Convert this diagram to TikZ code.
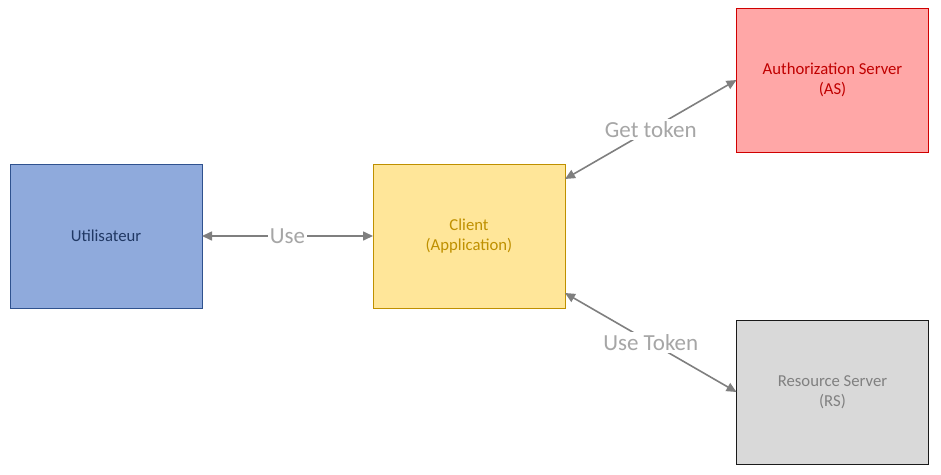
\documentclass[tikz,border=0pt]{standalone}
\usepackage{fontspec}
\setmainfont{Carlito}
\usetikzlibrary{arrows.meta}
\definecolor{userfill}{HTML}{8FAADC}
\definecolor{userline}{HTML}{2F528F}
\definecolor{usertext}{HTML}{203864}
\definecolor{clientfill}{HTML}{FFE699}
\definecolor{clientline}{HTML}{BF9000}
\definecolor{clienttext}{HTML}{BF9000}
\definecolor{asfill}{HTML}{FFA7A7}
\definecolor{asline}{HTML}{D00000}
\definecolor{astext}{HTML}{C00000}
\definecolor{rsfill}{HTML}{D9D9D9}
\definecolor{rsline}{HTML}{1A1A1A}
\definecolor{rstext}{HTML}{808080}
\definecolor{arrowgray}{HTML}{7F7F7F}
\definecolor{labelgray}{HTML}{A6A6A6}
\begin{document}
\begin{tikzpicture}[x=1pt,y=-1pt,
  box/.style={draw, line width=1pt, minimum width=192pt, minimum height=144pt,
    align=center, inner sep=0pt, outer sep=0pt,
    font=\fontsize{16.7}{20}\selectfont},
  link/.style={arrowgray, line width=1.6pt,
    {Triangle[length=10pt,width=9pt]}-{Triangle[length=10pt,width=9pt]}},
  lbl/.style={fill=white, text=labelgray, inner sep=2pt,
    font=\fontsize{23}{26}\selectfont}]
\useasboundingbox (0,0) rectangle (941,474);
\node[box, fill=userfill, draw=userline, text=usertext] (user) at (106,236) {Utilisateur};
\node[box, fill=clientfill, draw=clientline, text=clienttext] (client) at (469,236) {Client\\(Application)};
\node[box, fill=asfill, draw=asline, text=astext] (as) at (832.5,80) {Authorization Server\\(AS)};
\node[box, fill=rsfill, draw=rsline, text=rstext] (rs) at (832.5,392) {Resource Server\\(RS)};
\draw[link] (user.east) -- node[lbl] (use) {Use} (client.west);
\draw[link] ([yshift=-15pt]client.north east) -- node[lbl] (get) {Get token} (as.west);
\draw[link] ([yshift=15pt]client.south east) -- node[lbl] (usetok) {Use Token} (rs.west);
\end{tikzpicture}
\end{document}
